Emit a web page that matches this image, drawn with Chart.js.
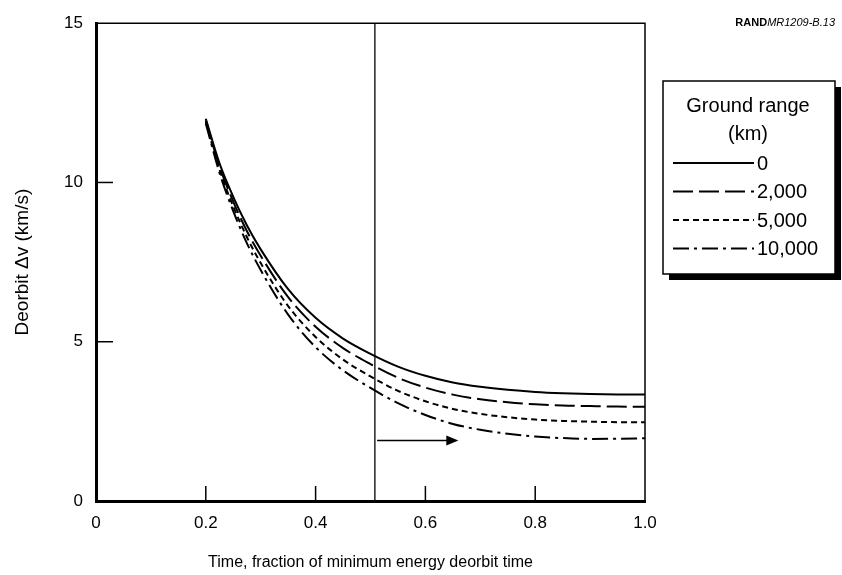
<!DOCTYPE html>
<html>
<head>
<meta charset="utf-8">
<script src="https://cdn.jsdelivr.net/npm/chart.js@4.4.0/dist/chart.umd.min.js"></script>
<style>
  html, body { margin: 0; padding: 0; background: #fff; }
  #wrap { width: 842px; height: 575px; }
</style>
</head>
<body>
<div id="wrap"><canvas id="deorbit" width="842" height="575"></canvas></div>
<script>
// time as fraction of minimum energy deorbit time
const timeFrac = [0.2, 0.225, 0.25, 0.275, 0.3, 0.35, 0.4, 0.45, 0.5, 0.55, 0.6, 0.65, 0.7, 0.75, 0.8, 0.85, 0.9, 0.95, 1.0];

// deorbit delta-v (km/s) for each ground range
const dvRange0     = [12.0, 10.6, 9.55, 8.65, 7.9, 6.65, 5.75, 5.1, 4.62, 4.22, 3.93, 3.72, 3.585, 3.49, 3.425, 3.385, 3.36, 3.345, 3.34];
const dvRange2000  = [11.95, 10.5, 9.4, 8.47, 7.7, 6.4, 5.47, 4.8, 4.3, 3.87, 3.56, 3.34, 3.195, 3.1, 3.035, 2.995, 2.98, 2.965, 2.96];
const dvRange5000  = [11.9, 10.4, 9.25, 8.28, 7.47, 6.12, 5.15, 4.44, 3.91, 3.46, 3.13, 2.89, 2.735, 2.63, 2.555, 2.515, 2.49, 2.475, 2.47];
const dvRange10000 = [11.85, 10.3, 9.1, 8.09, 7.25, 5.85, 4.83, 4.1, 3.55, 3.07, 2.7, 2.42, 2.235, 2.11, 2.025, 1.975, 1.95, 1.955, 1.97];

const rangeLabels = ['0', '2,000', '5,000', '10,000'];
const xTicks = [0, 0.2, 0.4, 0.6, 0.8, 1.0];
const yTicks = [0, 5, 10, 15];

// vertical marker and the arrow pointing right from it
const markerTime = 0.508;
const arrowStart = 0.512;
const arrowEnd = 0.66;
const arrowLevel = 1.9;

const FONT = "'Liberation Sans', Arial, Helvetica, sans-serif";
const dashes = [[], [20, 6], [6, 4], [16, 5, 3, 5]];
const seriesValues = [dvRange0, dvRange2000, dvRange5000, dvRange10000];

const datasets = seriesValues.map((vals, i) => ({
    label: rangeLabels[i],
    data: timeFrac.map((t, j) => ({ x: t, y: vals[j] })),
    borderColor: '#000',
    borderWidth: 2,
    borderDash: dashes[i],
    pointRadius: 0,
    fill: false,
    cubicInterpolationMode: 'monotone'
}));

// frame, inner ticks, marker line, arrow, legend box and figure id
const decorations = {
    id: 'decorations',
    afterDraw(chart) {
        const { ctx, chartArea: a, scales: { x, y } } = chart;
        ctx.save();
        ctx.strokeStyle = '#000';
        ctx.fillStyle = '#000';

        // thin top and right frame
        ctx.lineWidth = 1.5;
        ctx.beginPath();
        ctx.moveTo(a.left, a.top);
        ctx.lineTo(a.right, a.top);
        ctx.lineTo(a.right, a.bottom);
        ctx.stroke();

        // ticks pointing into the plot
        xTicks.forEach(v => {
            if (v === x.min || v === x.max) return;
            const px = x.getPixelForValue(v);
            ctx.beginPath();
            ctx.moveTo(px, a.bottom);
            ctx.lineTo(px, a.bottom - 15);
            ctx.stroke();
        });
        yTicks.forEach(v => {
            if (v === y.min || v === y.max) return;
            const py = y.getPixelForValue(v);
            ctx.beginPath();
            ctx.moveTo(a.left, py);
            ctx.lineTo(a.left + 17, py);
            ctx.stroke();
        });

        // vertical marker
        const mx = x.getPixelForValue(markerTime);
        ctx.lineWidth = 1.3;
        ctx.beginPath();
        ctx.moveTo(mx, a.top);
        ctx.lineTo(mx, a.bottom);
        ctx.stroke();

        // arrow
        const ax0 = x.getPixelForValue(arrowStart);
        const ax1 = x.getPixelForValue(arrowEnd);
        const ay = y.getPixelForValue(arrowLevel);
        ctx.lineWidth = 1.5;
        ctx.beginPath();
        ctx.moveTo(ax0, ay);
        ctx.lineTo(ax1 - 10, ay);
        ctx.stroke();
        ctx.beginPath();
        ctx.moveTo(ax1, ay);
        ctx.lineTo(ax1 - 12, ay - 5);
        ctx.lineTo(ax1 - 12, ay + 5);
        ctx.closePath();
        ctx.fill();

        // legend box with drop shadow
        const bx = 663, by = 81, bw = 172, bh = 193;
        ctx.fillRect(bx + 6, by + 6, bw, bh);
        ctx.fillStyle = '#fff';
        ctx.fillRect(bx, by, bw, bh);
        ctx.lineWidth = 1.5;
        ctx.strokeRect(bx, by, bw, bh);

        ctx.fillStyle = '#000';
        ctx.font = '20px ' + FONT;
        ctx.textAlign = 'center';
        ctx.textBaseline = 'middle';
        ctx.fillText('Ground range', 748, 106);
        ctx.fillText('(km)', 748, 134);

        ctx.textAlign = 'left';
        chart.data.datasets.forEach((ds, i) => {
            const ry = 163 + i * 28.5;
            ctx.lineWidth = 2;
            ctx.setLineDash(ds.borderDash);
            ctx.beginPath();
            ctx.moveTo(673, ry);
            ctx.lineTo(754, ry);
            ctx.stroke();
            ctx.setLineDash([]);
            ctx.fillText(ds.label, 757, ry + 1);
        });

        // figure id, top right
        ctx.textBaseline = 'middle';
        ctx.font = 'italic 11px ' + FONT;
        const idText = 'MR1209-B.13';
        const idW = ctx.measureText(idText).width;
        ctx.textAlign = 'right';
        ctx.fillText(idText, 835, 23);
        ctx.font = 'bold 11px ' + FONT;
        ctx.fillText('RAND', 835 - idW, 23);

        ctx.restore();
    }
};

new Chart(document.getElementById('deorbit'), {
    type: 'line',
    data: { datasets },
    options: {
        responsive: false,
        animation: false,
        devicePixelRatio: 1,
        layout: { padding: { left: 0, right: 197, top: 23, bottom: 0 } },
        plugins: {
            legend: { display: false },
            tooltip: { enabled: false }
        },
        scales: {
            x: {
                type: 'linear',
                min: 0,
                max: 1,
                afterFit(scale) { scale.height = 74; },
                afterBuildTicks(scale) { scale.ticks = xTicks.map(v => ({ value: v })); },
                grid: { display: false, drawTicks: false },
                border: { display: true, color: '#000', width: 3 },
                ticks: {
                    color: '#000',
                    padding: 12,
                    font: { family: FONT, size: 17 },
                    callback: v => (v === 0 ? '0' : v.toFixed(1))
                },
                title: {
                    display: true,
                    text: 'Time, fraction of minimum energy deorbit time',
                    color: '#000',
                    font: { family: FONT, size: 16 },
                    padding: { top: 0, bottom: 3 }
                }
            },
            y: {
                type: 'linear',
                min: 0,
                max: 15,
                afterFit(scale) { scale.width = 96; },
                afterBuildTicks(scale) { scale.ticks = yTicks.map(v => ({ value: v })); },
                grid: { display: false, drawTicks: false },
                border: { display: true, color: '#000', width: 3 },
                ticks: {
                    color: '#000',
                    padding: 13,
                    font: { family: FONT, size: 17 }
                },
                title: {
                    display: true,
                    text: 'Deorbit \u0394v (km/s)',
                    color: '#000',
                    font: { family: FONT, size: 19 },
                    padding: { top: 11, bottom: 0 }
                }
            }
        }
    },
    plugins: [decorations]
});
</script>
</body>
</html>
